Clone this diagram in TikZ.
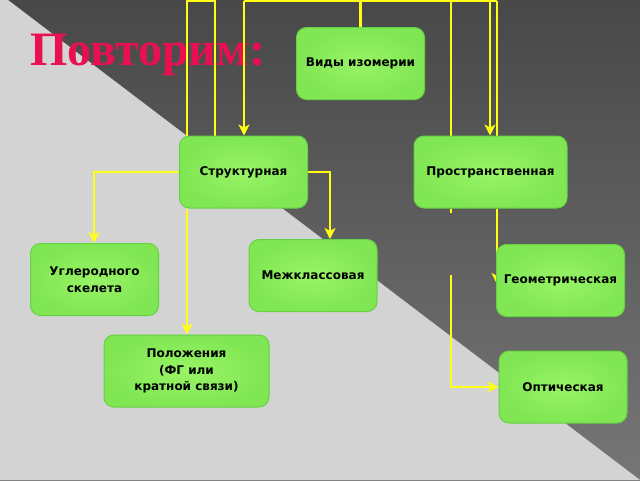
\documentclass[tikz,border=0pt]{standalone}
\usepackage{fontspec}
\setmainfont{Liberation Serif}
\newfontfamily\boxfont{DejaVu Sans}
\usetikzlibrary{arrows.meta,calc}
\definecolor{lightbg}{RGB}{211,211,211}
\definecolor{darktop}{RGB}{72,72,72}
\definecolor{darkbot}{RGB}{118,118,118}
\definecolor{titlered}{RGB}{232,16,80}
\definecolor{linky}{RGB}{255,255,20}
\definecolor{boxin}{RGB}{152,244,102}
\definecolor{boxout}{RGB}{128,230,84}
\definecolor{boxedge}{RGB}{100,210,66}
\tikzset{
  gbox/.style={rectangle, rounded corners=10pt, draw=boxedge, line width=1pt,
    inner color=boxin, outer color=boxout, minimum width=128pt, minimum height=72pt,
    align=center, font=\boxfont\bfseries\fontsize{12}{16.5}\selectfont, text=black},
  conn/.style={draw=linky, line width=2.8pt},
  arr/.style={conn, -{Stealth[length=11pt,width=11pt,inset=3pt]}}
}
\begin{document}
\begin{tikzpicture}[x=1pt,y=-1pt]
\useasboundingbox (0,0) rectangle (640,480);
% background
\shade[top color=darktop, bottom color=darkbot] (0,0) rectangle (640,480);
\fill[lightbg] (0,0) -- (8,0) -- (640,480) -- (0,480) -- cycle;
% title
\node[anchor=base west, text=titlered, font=\bfseries\fontsize{48}{48}\selectfont, inner sep=0pt] (title) at (30,65) {Повторим:};
% coordinates
\coordinate (ytop) at (0,1);
\coordinate (xa) at (187,0);
\coordinate (xb) at (215,0);
\coordinate (xc) at (244,0);
\coordinate (xd) at (451,0);
\coordinate (xe) at (490,0);
\coordinate (xf) at (497,0);
\coordinate (xg) at (94,0);
\coordinate (xh) at (330,0);
% node positions (boxes drawn later, lines first)
\path (360.5,63.5) node[gbox, opacity=0] (vid) {Виды изомерии};
\path (243.5,172) node[gbox, opacity=0] (str) {Структурная};
\path (490.5,172) node[gbox, minimum width=153pt, opacity=0] (pro) {Пространственная};
\path (94.5,279.5) node[gbox, opacity=0] (ugl) {Углеродного\\скелета};
\path (313,275.5) node[gbox, opacity=0] (mez) {Межклассовая};
\path (560.5,280.5) node[gbox, opacity=0] (geo) {Геометрическая};
\path (186.5,371) node[gbox, minimum width=165pt, opacity=0] (pol) {Положения\\(ФГ или\\кратной связи)};
\path (563,387) node[gbox, opacity=0] (opt) {Оптическая};
\coordinate (optin) at (opt.west |- 0,387);
% connectors
\draw[conn] (str.north -| xb) -- (xb |- ytop) -- (xa |- ytop) -- (str.north -| xa);
\draw[arr] (str.south -| xa) -- (pol.north -| xa);
\draw[conn] (vid.north) -- (vid.north |- ytop);
\draw[conn] (xc |- ytop) -- (xf |- ytop);
\draw[arr] (xc |- ytop) -- (str.north -| xc);
\draw[arr] (xe |- ytop) -- (pro.north -| xe);
\draw[conn] (xf |- ytop) -- (pro.north -| xf);
\draw[conn] (xd |- ytop) -- (pro.north -| xd);
\draw[conn] (pro.south -| xd) -- ++(0,4);
\coordinate (dstart) at (451,275);
\draw[arr] (dstart) |- (optin);
\coordinate (geoarr) at (497,284);
\draw[arr] (pro.south -| xf) -- (geoarr);
\draw[arr] (str.west) -| (ugl.north -| xg);
\draw[arr] (str.east) -| (mez.north -| xh);
% boxes
\node[gbox] at (vid) {Виды изомерии};
\node[gbox] at (str) {Структурная};
\node[gbox, minimum width=153pt] at (pro) {Пространственная};
\node[gbox] at (ugl) {Углеродного\\скелета};
\node[gbox] at (mez) {Межклассовая};
\node[gbox] at (geo) {Геометрическая};
\node[gbox, minimum width=165pt] at (pol) {Положения\\(ФГ или\\кратной связи)};
\node[gbox] at (opt) {Оптическая};
\end{tikzpicture}
\end{document}
